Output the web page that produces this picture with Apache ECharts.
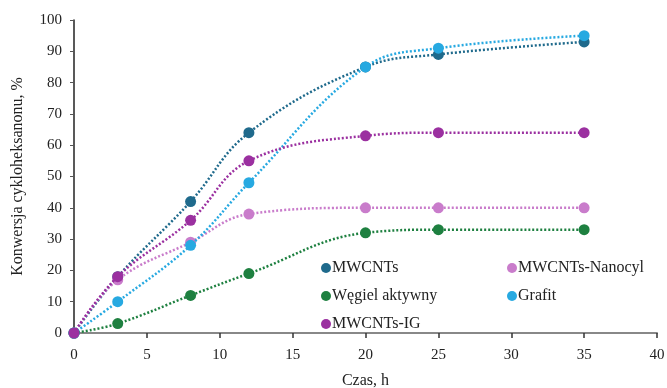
<!DOCTYPE html>
<html>
<head>
<meta charset="utf-8">
<script src="https://cdn.jsdelivr.net/npm/echarts@6/dist/echarts.min.js"></script>
<style>html,body{margin:0;padding:0;background:#fff}#c{width:667px;height:388px}</style>
</head>
<body>
<div id="c"></div>
<script>
var hours = [0, 3, 8, 12, 20, 25, 35];
var mwcnts = [0, 18, 42, 64, 85, 89, 93];
var nanocyl = [0, 17, 29, 38, 40, 40, 40];
var wegiel = [0, 3, 12, 19, 32, 33, 33];
var grafit = [0, 10, 28, 48, 85, 91, 95];
var mwcntsIG = [0, 18, 36, 55, 63, 64, 64];
var xTicks = [0, 5, 10, 15, 20, 25, 30, 35, 40];
var yTicks = [0, 10, 20, 30, 40, 50, 60, 70, 80, 90, 100];

var names = ['MWCNTs', 'MWCNTs-Nanocyl', 'Węgiel aktywny', 'Grafit', 'MWCNTs-IG'];
var colors = ['#1f6a8c', '#c97ccb', '#1e8040', '#27a9e1', '#9b30a0'];
var values = [mwcnts, nanocyl, wegiel, grafit, mwcntsIG];

function pairs(v) { return hours.map(function (h, i) { return [h, v[i]]; }); }

var series = names.map(function (n, k) {
  return {
    name: n, type: 'line', data: pairs(values[k]), smooth: 0.4,
    symbol: 'circle', symbolSize: 11,
    itemStyle: { color: colors[k] },
    lineStyle: { color: colors[k], width: 2.5, type: [2, 2] },
    z: 2 + k
  };
});
var font = 'Liberation Serif';
var legendText = { fontFamily: font, fontSize: 16, color: '#222', padding: [0, 0, 0, -4] };
var chart = echarts.init(document.getElementById('c'));
chart.setOption({
  animation: false,
  backgroundColor: '#fff',
  grid: { left: 74, right: 10, top: 20, bottom: 55, containLabel: false, outerBoundsMode: 'none' },
  xAxis: {
    type: 'value', min: 0, max: 40, interval: 5,
    name: 'Czas, h', nameLocation: 'middle', nameGap: 40,
    nameTextStyle: { fontFamily: font, fontSize: 16, color: '#222' },
    axisLine: { lineStyle: { color: '#888', width: 2 } },
    axisTick: { show: true, length: 5, lineStyle: { color: '#333', width: 1.5 } },
    axisLabel: { fontFamily: font, fontSize: 15, color: '#222', margin: 15 },
    splitLine: { show: false }
  },
  yAxis: {
    type: 'value', min: 0, max: 100, interval: 10,
    name: 'Konwersja cykloheksanonu, %', nameLocation: 'middle', nameGap: 48,
    nameTextStyle: { fontFamily: font, fontSize: 16, color: '#222' },
    axisLine: { show: true, lineStyle: { color: '#222', width: 1.5 } },
    axisTick: { show: true, length: 4, lineStyle: { color: '#555' } },
    axisLabel: { fontFamily: font, fontSize: 15, color: '#222', margin: 12 },
    splitLine: { show: false }
  },
  legend: [
    { data: ['MWCNTs', 'Węgiel aktywny', 'MWCNTs-IG'], orient: 'vertical', left: 316, top: 255,
      itemWidth: 10, itemHeight: 10, itemGap: 12, icon: 'circle', textStyle: legendText },
    { data: ['MWCNTs-Nanocyl', 'Grafit'], orient: 'vertical', left: 502, top: 255,
      itemWidth: 10, itemHeight: 10, itemGap: 12, icon: 'circle', textStyle: legendText }
  ],
  series: series
});
</script>
</body>
</html>
